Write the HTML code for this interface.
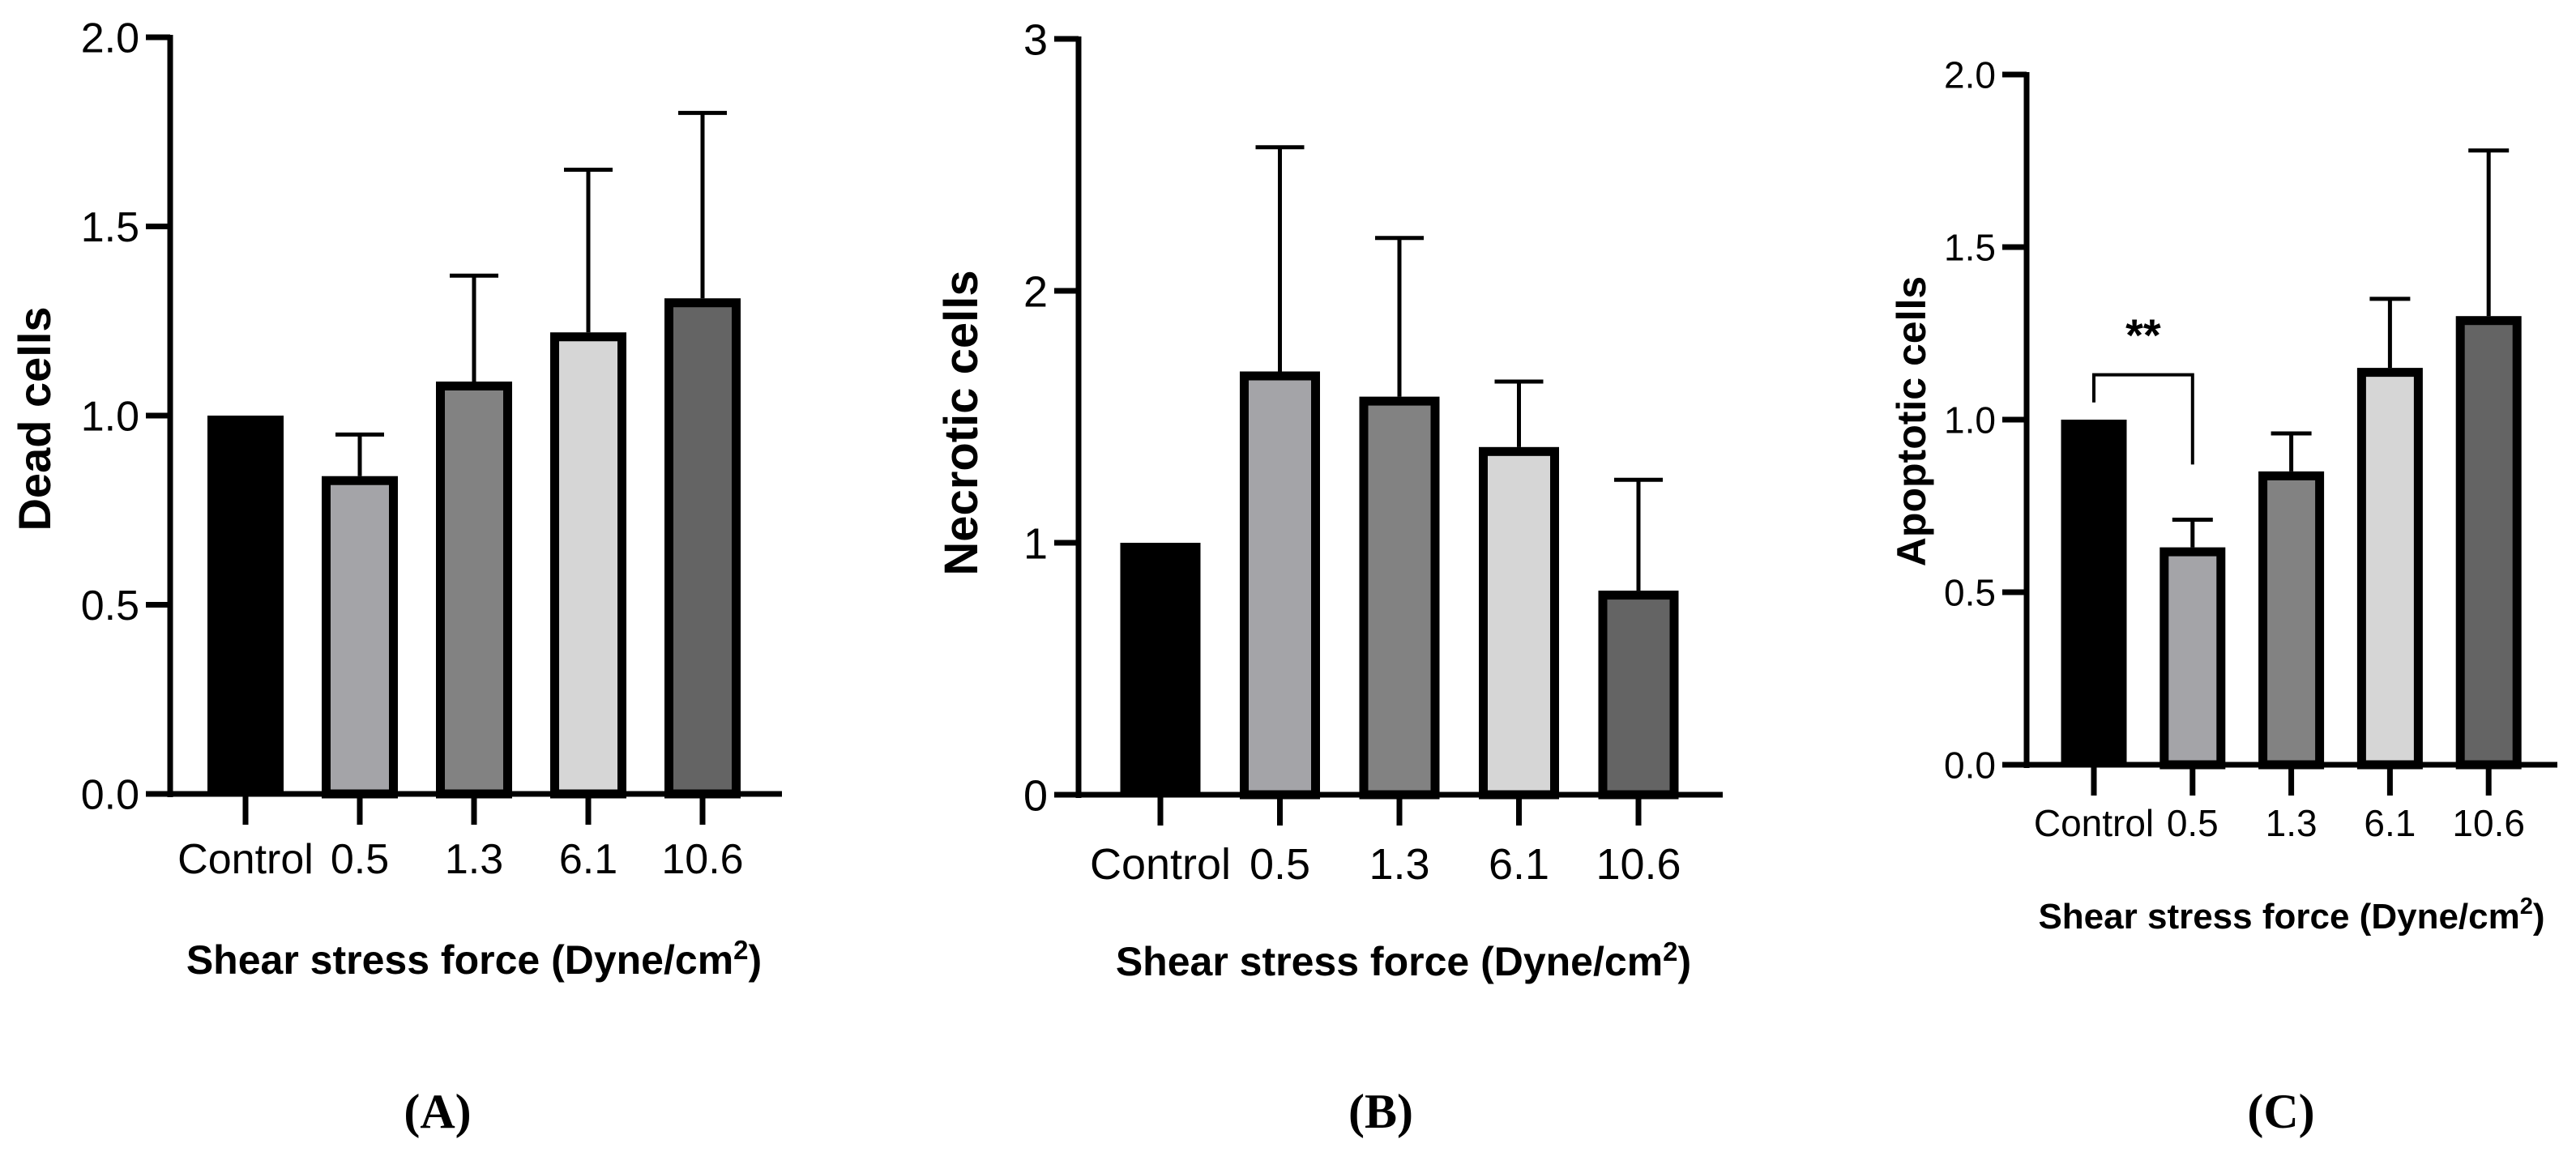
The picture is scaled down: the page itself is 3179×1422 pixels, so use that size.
<!DOCTYPE html>
<html><head><meta charset="utf-8">
<style>
html,body{margin:0;padding:0;background:#fff;}
svg{display:block;}
text{font-family:"Liberation Sans",Arial,sans-serif;}
</style></head>
<body>
<svg id="fig" width="3179" height="1422" viewBox="0 0 3179 1422" xmlns="http://www.w3.org/2000/svg"></svg>
<script>
const categories = ["Control","0.5","1.3","6.1","10.6"];
const deadValues = [1.0, 0.84, 1.09, 1.22, 1.31];
const deadErrors = [null, 0.95, 1.37, 1.65, 1.80];
const necroticValues = [1.0, 1.68, 1.58, 1.38, 0.81];
const necroticErrors = [null, 2.57, 2.21, 1.64, 1.25];
const apoptoticValues = [1.0, 0.63, 0.85, 1.15, 1.30];
const apoptoticErrors = [null, 0.71, 0.96, 1.35, 1.78];
const deadTicks = ["0.0","0.5","1.0","1.5","2.0"];
const necroticTicks = ["0","1","2","3"];
const apoptoticTicks = ["0.0","0.5","1.0","1.5","2.0"];
const fills = ["#000000","#a4a4a8","#828282","#d6d6d6","#646464"];

const NS = "http://www.w3.org/2000/svg";
const svg = document.getElementById("fig");
function mk(tag, attrs, parent){
  const e = document.createElementNS(NS, tag);
  for (const k in attrs) e.setAttribute(k, attrs[k]);
  (parent||svg).appendChild(e);
  return e;
}

function panel(cfg){
  const g = mk("g", {});
  
  
  const yS = v => cfg.y0 - (v / cfg.ymax) * (cfg.y0 - cfg.yTop);
  const xS = i => cfg.x0c + i * cfg.step;
  cfg.values.forEach((v,i)=>{
    const bw = cfg.bw, b = 11;
    let r;
    if (i === 0) {
      r = mk("rect", {x:xS(i)-bw/2, y:yS(v), width:bw, height:cfg.y0-yS(v), fill:fills[i]}, g);
    } else {
      r = mk("rect", {x:xS(i)-bw/2+b/2, y:yS(v)+b/2, width:bw-b, height:cfg.y0-yS(v)-b/2, fill:fills[i], stroke:"#000", "stroke-width":b}, g);
    }
    
    
    const e = cfg.errors[i];
    if (e != null) {
      const eg = mk("g", {stroke:"#000","stroke-width":5}, g);
      
      
      mk("line", {x1:xS(i), x2:xS(i), y1:yS(v), y2:yS(e)}, eg);
      mk("line", {x1:xS(i)-cfg.cap, x2:xS(i)+cfg.cap, y1:yS(e), y2:yS(e)}, eg);
    }
    const t = mk("text", {x:xS(i), y:cfg.labY, "font-size":cfg.fs, "text-anchor":"middle"}, g);
    t.textContent = categories[i];
    
    
    const tk = mk("line", {x1:xS(i), x2:xS(i), y1:cfg.y0, y2:cfg.y0+38, stroke:"#000","stroke-width":7}, g);
    
    
  });
  const ya = mk("line", {x1:cfg.ax, x2:cfg.ax, y1:cfg.yTop-3, y2:cfg.y0+4, stroke:"#000","stroke-width":7}, g);
  
  
  const xa = mk("line", {x1:cfg.ax-3, x2:cfg.xEnd, y1:cfg.y0, y2:cfg.y0, stroke:"#000","stroke-width":7}, g);
  
  
  cfg.ticks.forEach((lab,k)=>{
    const v = parseFloat(lab);
    const yy = yS(v);
    const tl = mk("line", {x1:cfg.ax-30, x2:cfg.ax, y1:yy, y2:yy, stroke:"#000","stroke-width":7}, g);
    
    
    const t = mk("text", {x:cfg.ax-38, y:yy+cfg.fs*0.36, "font-size":cfg.fs, "text-anchor":"end"}, g);
    t.textContent = lab;
    
    
  });
  const yt = mk("text", {x:0, y:0, "font-size":cfg.ytfs, "font-weight":"bold", "text-anchor":"middle",
    transform:`translate(${cfg.ytx},${cfg.yty}) rotate(-90)`}, g);
  yt.textContent = cfg.ytitle;
  
  
  const xt = mk("text", {x:cfg.xtx, y:cfg.xty, "font-size":cfg.xtfs, "font-weight":"bold", "text-anchor":"middle"}, g);
  xt.innerHTML = 'Shear stress force (Dyne/cm<tspan dy="-18" font-size="' + Math.round(cfg.xtfs*0.65) + '">2</tspan><tspan dy="18">)</tspan>';
  
  
  const pl = mk("text", {x:cfg.plx, y:1392, "font-size":60, "font-weight":"bold", "text-anchor":"middle", style:"font-family:'Liberation Serif',serif"}, g);
  pl.textContent = cfg.plabel;
  
  
  return {g, xS, yS};
}

panel({name:"panel-a-dead-cells", values:deadValues, errors:deadErrors, ticks:deadTicks, ymax:2,
  ax:210, y0:980, yTop:46, xEnd:965, x0c:303, step:141, bw:94, cap:30, fs:52, labY:1078,
  ytitle:"Dead cells", ytx:62, yty:517, ytfs:56, xtx:585, xty:1202, xtfs:50, plabel:"(A)", plx:540});
panel({name:"panel-b-necrotic-cells", values:necroticValues, errors:necroticErrors, ticks:necroticTicks, ymax:3,
  ax:1331, y0:981, yTop:48, xEnd:2126, x0c:1432, step:147.5, bw:99, cap:30, fs:54, labY:1085,
  ytitle:"Necrotic cells", ytx:1206, yty:522, ytfs:58, xtx:1732, xty:1204, xtfs:50, plabel:"(B)", plx:1704});
const c = panel({name:"panel-c-apoptotic-cells", values:apoptoticValues, errors:apoptoticErrors, ticks:apoptoticTicks, ymax:2,
  ax:2501, y0:944, yTop:92, xEnd:3156, x0c:2584, step:121.8, bw:81, cap:25, fs:46, labY:1032,
  ytitle:"Apoptotic cells", ytx:2376, yty:520, ytfs:50, xtx:2828, xty:1146, xtfs:44, plabel:"(C)", plx:2815});

const sig = mk("g", {stroke:"#000","stroke-width":4, fill:"none"});


mk("polyline", {points:`${c.xS(0)},${c.yS(1.05)} ${c.xS(0)},${c.yS(1.13)} ${c.xS(1)},${c.yS(1.13)} ${c.xS(1)},${c.yS(0.87)}`}, sig);
const st = mk("text", {x:(c.xS(0)+c.xS(1))/2, y:c.yS(1.2), "font-size":56, "font-weight":"bold", "text-anchor":"middle"});
st.textContent = "**";


</script>
</body></html>
